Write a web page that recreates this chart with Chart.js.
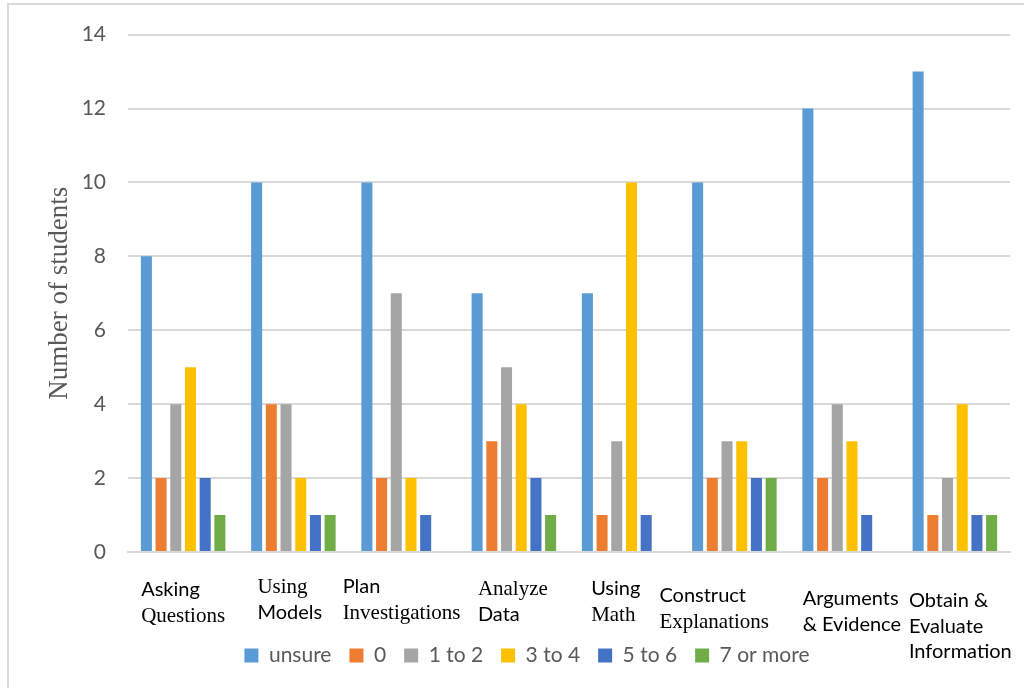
<!DOCTYPE html>
<html>
<head>
<meta charset="utf-8">
<script src="https://cdn.jsdelivr.net/npm/chart.js@4.4.1/dist/chart.umd.min.js"></script>
<style>
  html, body { margin: 0; padding: 0; background: #fff; }
  #wrap { position: relative; width: 1024px; height: 688px; }
  #frame { position: absolute; left: 7px; top: 3px; right: 0; bottom: 0;
           border-left: 2px solid #d9d9d9; border-top: 2px solid #d9d9d9; }
  canvas { position: absolute; left: 0; top: 0; }
</style>
</head>
<body>
<div id="wrap">
  <div id="frame"></div>
  <canvas id="myChart" width="1024" height="688"></canvas>
</div>
<script>
// categories, split in lines like the original text boxes
var categories = [
  ['Asking', 'Questions'],
  ['Using', 'Models'],
  ['Plan', 'Investigations'],
  ['Analyze', 'Data'],
  ['Using', 'Math'],
  ['Construct', 'Explanations'],
  ['Arguments', '& Evidence'],
  ['Obtain &', 'Evaluate', 'Information']
]
var seriesNames = ['unsure', '0', '1 to 2', '3 to 4', '5 to 6', '7 or more']
var unsure   = [8, 10, 10, 7, 7, 10, 12, 13]
var zero     = [2, 4, 2, 3, 1, 2, 2, 1]
var oneTwo   = [4, 4, 7, 5, 3, 3, 4, 2]
var threeFour= [5, 2, 2, 4, 10, 3, 3, 4]
var fiveSix  = [2, 1, 1, 2, 1, 2, 1, 1]
var sevenUp  = [1, 1, 0, 1, 0, 2, 0, 1]
var yTicks   = [0, 2, 4, 6, 8, 10, 12, 14]

var colors = ['#5B9BD5', '#ED7D31', '#A5A5A5', '#FFC000', '#4472C4', '#70AD47']

// the label boxes mix fonts line by line, s = sans, r = serif
var labelFonts = [['s','r'], ['r','s'], ['s','r'], ['r','s'], ['s','r'], ['s','r'], ['s','s'], ['s','s','s']]
var labelDx = [-42, -36, -61, -36, -33, -75, -42, -46]
var labelBase = [596, 593, 593, 595, 595, 602, 605, 607]

var catLabels = categories.map(function(c){ return c.join(' ') })
var values = [unsure, zero, oneTwo, threeFour, fiveSix, sevenUp]

var datasets = []
for (var i = 0; i < values.length; i++) {
  datasets.push({
    label: seriesNames[i],
    data: values[i],
    backgroundColor: colors[i],
    borderWidth: 0,
    categoryPercentage: 0.8,
    barPercentage: 0.75
  })
}

var boxLabels = {
  id: 'boxLabels',
  afterDraw: function(chart) {
    var ctx = chart.ctx, xs = chart.scales.x
    ctx.save()
    ctx.fillStyle = '#000'
    ctx.textAlign = 'left'
    ctx.textBaseline = 'alphabetic'
    for (var i = 0; i < categories.length; i++) {
      var x = xs.getPixelForValue(i) + labelDx[i]
      for (var k = 0; k < categories[i].length; k++) {
        ctx.font = labelFonts[i][k] == 's' ? '20px Lato' : '21px "Liberation Serif"'
        ctx.fillText(categories[i][k], x, labelBase[i] + k * 25.5)
      }
    }
    ctx.restore()
  }
}

var chart = new Chart(document.getElementById('myChart'), {
  type: 'bar',
  data: { labels: catLabels, datasets: datasets },
  plugins: [boxLabels],
  options: {
    responsive: false,
    animation: false,
    layout: { padding: { left: 44, right: 14, top: 15, bottom: 12 } },
    plugins: {
      tooltip: { enabled: false },
      legend: {
        position: 'bottom',
        labels: {
          font: { family: 'Lato', size: 21 },
          color: '#595959',
          boxWidth: 14,
          boxHeight: 14,
          padding: 18
        }
      }
    },
    scales: {
      x: {
        grid: { display: false },
        border: { color: '#d9d9d9', width: 2 },
        ticks: { display: false },
        afterFit: function(s) { s.height = 75 }
      },
      y: {
        min: 0, max: 14,
        afterBuildTicks: function(s) { s.ticks = yTicks.map(function(v){ return { value: v } }) },
        grid: { color: '#d9d9d9', lineWidth: 2, drawTicks: false },
        border: { display: false },
        ticks: { font: { family: 'Lato', size: 21 }, color: '#595959', padding: 22 },
        title: {
          display: true,
          text: 'Number of students',
          font: { family: 'Liberation Serif', size: 27 },
          color: '#595959',
          padding: 0
        },
        afterFit: function(s) { s.width = 84 }
      }
    }
  }
})
</script>
</body>
</html>
